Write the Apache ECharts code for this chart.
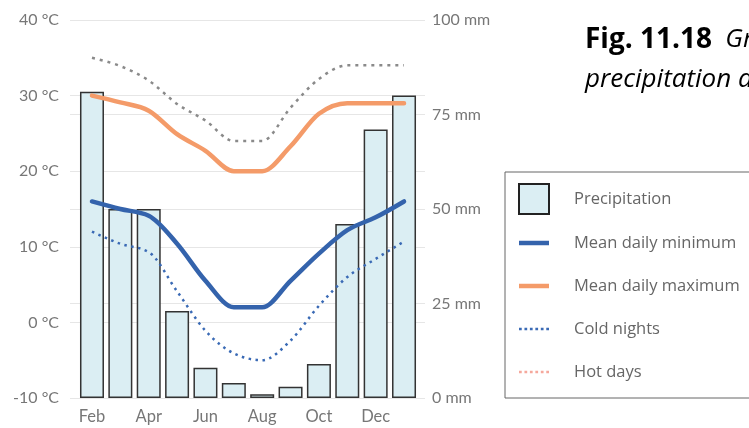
<!DOCTYPE html>
<html>
<head>
<meta charset="utf-8">
<script src="https://cdn.jsdelivr.net/npm/echarts@6/dist/echarts.min.js"></script>
<style>
html,body{margin:0;padding:0;background:#fff;}
#chart{width:749px;height:428px;}
</style>
</head>
<body>
<div id="chart"></div>
<script>
// ---- data ----
var months = ['Jan','Feb','Mar','Apr','May','Jun','Jul','Aug','Sep','Oct','Nov','Dec'];
var tickLabels = ['Feb','','Apr','','Jun','','Aug','','Oct','','Dec',''];
var precipitation = [81, 50, 50, 23, 8, 4, 1, 3, 9, 46, 71, 80];
var meanMax = [30, 29.1, 28, 24.9, 22.7, 20, 20, 23.3, 27.6, 29, 29, 29];
var meanMin = [16, 15, 14.1, 10.4, 5.5, 2, 2, 5.5, 9.1, 12.2, 13.9, 16];
var coldNights = [12, 10.4, 9.3, 4.1, -1.1, -4.1, -5, -2.4, 2.2, 6, 8.4, 10.7];
var hotDays = [35, 33.9, 32, 28.9, 26.7, 24, 24, 28.4, 32.2, 34, 34, 34];
var tempTicks = {min: -10, max: 40, interval: 10};
var rainTicks = {min: 0, max: 100, interval: 25};

var FONT = 'Lato';
var LFONT = 'Open Sans';

// monotone cubic (monotone in x) path through pixel points
function monotonePath(p) {
  var n = p.length, m = new Array(n), i;
  function sgn(x) { return x < 0 ? -1 : 1; }
  for (i = 1; i < n - 1; i++) {
    var h0 = p[i][0] - p[i - 1][0], h1 = p[i + 1][0] - p[i][0];
    var s0 = (p[i][1] - p[i - 1][1]) / h0, s1 = (p[i + 1][1] - p[i][1]) / h1;
    var q = (s0 * h1 + s1 * h0) / (h0 + h1);
    m[i] = (sgn(s0) + sgn(s1)) * Math.min(Math.abs(s0), Math.abs(s1), 0.5 * Math.abs(q)) || 0;
  }
  var hA = p[1][0] - p[0][0];
  m[0] = (3 * (p[1][1] - p[0][1]) / hA - m[1]) / 2;
  var hB = p[n - 1][0] - p[n - 2][0];
  m[n - 1] = (3 * (p[n - 1][1] - p[n - 2][1]) / hB - m[n - 2]) / 2;
  var d = 'M' + p[0][0] + ',' + p[0][1];
  for (i = 0; i < n - 1; i++) {
    var dx = (p[i + 1][0] - p[i][0]) / 3;
    d += 'C' + (p[i][0] + dx) + ',' + (p[i][1] + dx * m[i]) + ',' +
         (p[i + 1][0] - dx) + ',' + (p[i + 1][1] - dx * m[i + 1]) + ',' +
         p[i + 1][0] + ',' + p[i + 1][1];
  }
  return d;
}

function curveSeries(name, values, color, width, dash, z) {
  return {
    name: name, type: 'custom', coordinateSystem: 'cartesian2d', xAxisIndex: 0, yAxisIndex: 0,
    data: values.map(function (v, i) { return [i, v]; }),
    itemStyle: {color: color},
    silent: true, z: z, clip: false,
    renderItem: function (params, api) {
      if (params.dataIndex !== 0) return null;
      var pts = values.map(function (v, i) { return api.coord([i, v]); });
      return {
        type: 'path', z2: z,
        shape: {pathData: monotonePath(pts)},
        style: {
          fill: 'none', stroke: color, lineWidth: width,
          lineDash: dash || null, lineCap: dash ? 'butt' : 'round', lineJoin: 'round'
        }
      };
    }
  };
}

var solidIcon = 'path://M0,0h30v4.5h-30z';
var dotIcon = 'path://M0,0h2.5v2.5h-2.5zM5,0h2.5v2.5h-2.5zM10,0h2.5v2.5h-2.5zM15,0h2.5v2.5h-2.5zM20,0h2.5v2.5h-2.5zM25,0h2.5v2.5h-2.5z';

var chart = echarts.init(document.getElementById('chart'), null, {renderer: 'canvas'});
var option = {
  animation: false,
  textStyle: {fontFamily: FONT},
  grid: [
    {left: 77.8, right: 330.8, top: 20, bottom: 30},
    {left: 70, right: 324, top: 20, bottom: 30}
  ],
  xAxis: [
    {
      type: 'category', gridIndex: 0, data: months, boundaryGap: true,
      axisLine: {show: false}, axisTick: {show: false},
      axisLabel: {
        interval: 0, color: '#777', fontSize: 16.5, fontFamily: FONT, margin: 10,
        formatter: function (v, i) { return tickLabels[i]; }
      },
      splitLine: {show: false}
    },
    {type: 'value', gridIndex: 1, min: 0, max: 1, show: false}
  ],
  yAxis: [
    {type: 'value', gridIndex: 0, min: tempTicks.min, max: tempTicks.max, interval: tempTicks.interval, show: false},
    {type: 'value', gridIndex: 0, min: rainTicks.min, max: rainTicks.max, interval: rainTicks.interval, show: false},
    {
      type: 'value', gridIndex: 1, position: 'left', min: tempTicks.min, max: tempTicks.max, interval: tempTicks.interval,
      axisLine: {show: false}, axisTick: {show: false},
      axisLabel: {formatter: '{value} °C', color: '#777', fontSize: 16, fontFamily: FONT, margin: 11},
      splitLine: {lineStyle: {color: '#e6e6e6', width: 1}}
    },
    {
      type: 'value', gridIndex: 1, position: 'right', min: rainTicks.min, max: rainTicks.max, interval: rainTicks.interval,
      axisLine: {show: false}, axisTick: {show: false},
      axisLabel: {formatter: '{value} mm', color: '#777', fontSize: 16, fontFamily: FONT, margin: 7},
      splitLine: {lineStyle: {color: '#e6e6e6', width: 1}}
    }
  ],
  legend: {
    orient: 'vertical', left: 505, top: 172,
    padding: [11, 40, 11, 13],
    borderColor: '#666', borderWidth: 1,
    itemWidth: 30, itemHeight: 30, itemGap: 13,
    textStyle: {color: '#666', fontSize: 16.5, fontFamily: LFONT, lineHeight: 30, padding: [0, 0, 0, 20]},
    data: [
      {name: 'Precipitation', icon: 'rect', itemStyle: {color: '#dbeef3', borderWidth: 2, borderColor: '#222'}},
      {name: 'Mean daily minimum', icon: solidIcon, itemStyle: {color: '#3463ac', borderWidth: 0}},
      {name: 'Mean daily maximum', icon: solidIcon, itemStyle: {color: '#f49b69', borderWidth: 0}},
      {name: 'Cold nights', icon: dotIcon, itemStyle: {color: '#3a6ab5', borderWidth: 0}},
      {name: 'Hot days', icon: dotIcon, itemStyle: {color: '#f5a89c', borderWidth: 0}}
    ]
  },
  series: [
    {
      name: 'Precipitation', type: 'bar', xAxisIndex: 0, yAxisIndex: 1, data: precipitation,
      barWidth: 24, z: 2,
      itemStyle: {color: '#dbeef3', borderColor: '#333', borderWidth: 1.5}
    },
    curveSeries('Hot days', hotDays, '#8a8a8a', 2.5, [3, 5], 5),
    curveSeries('Cold nights', coldNights, '#3a6ab5', 2.5, [2.5, 4.5], 6),
    curveSeries('Mean daily maximum', meanMax, '#f49b69', 4.5, null, 7),
    curveSeries('Mean daily minimum', meanMin, '#3463ac', 4.5, null, 8)
  ],
  graphic: [
    {
      type: 'text', left: 585, top: 26,
      style: {
        text: '{b|Fig. 11.18}    {i|Graph of temperature and}\n{i|precipitation at a Mediterranean site}',
        rich: {
          b: {fontFamily: LFONT, fontWeight: 'bold', fontSize: 28, color: '#111', lineHeight: 40},
          i: {fontFamily: LFONT, fontStyle: 'italic', fontSize: 26, color: '#111', lineHeight: 40}
        }
      }
    }
  ]
};
chart.setOption(option);
</script>
</body>
</html>
